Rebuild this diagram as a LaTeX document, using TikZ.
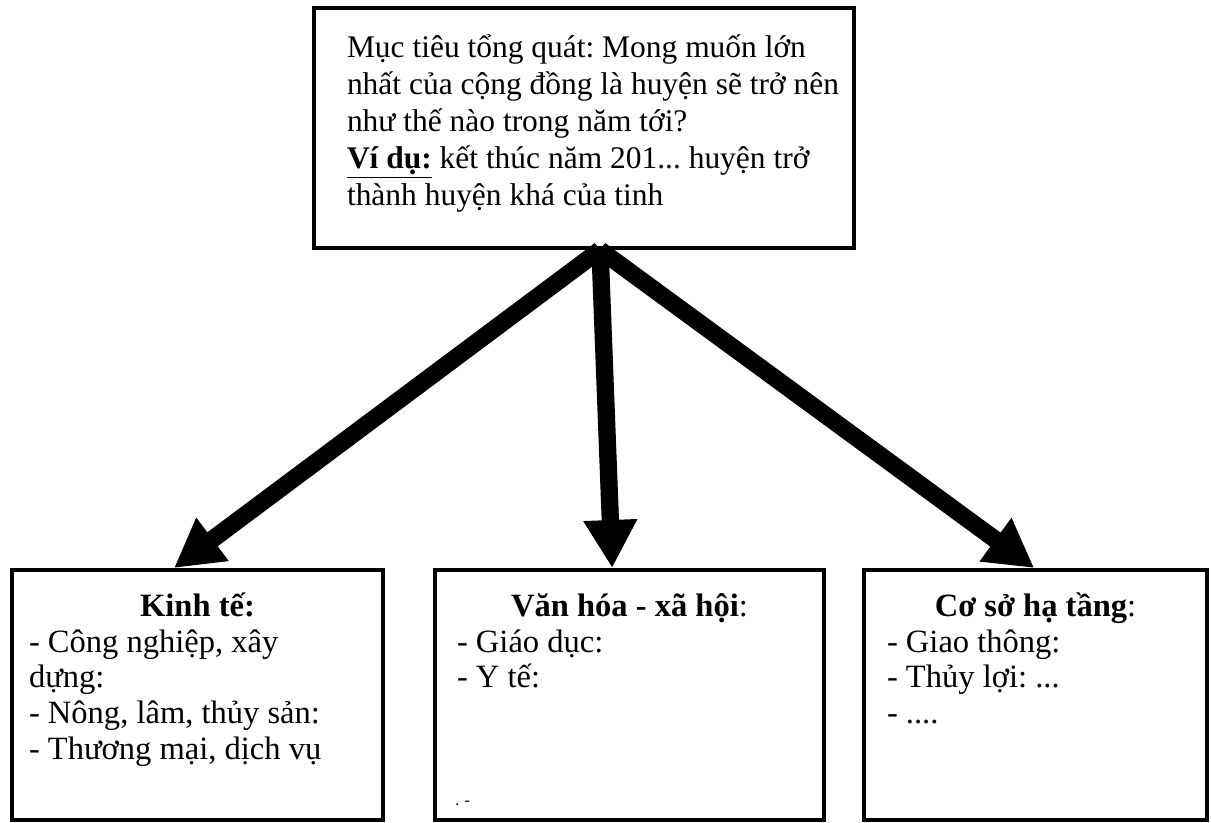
\documentclass[tikz,border=0pt]{standalone}
\usepackage{fontspec}
\setmainfont{Liberation Serif}
\usetikzlibrary{arrows.meta}

\begin{document}
\begin{tikzpicture}[x=1pt, y=1pt, >={Triangle[length=36pt, width=38pt]},
    box/.style={draw, line width=3pt, anchor=north west, align=flush left, inner ysep=4pt,
      text height=30.5pt, text depth=149pt, font=\fontsize{24.4}{27}\selectfont\frenchspacing},
    big/.style={->, line width=13pt}]
    \useasboundingbox (0,0) rectangle (908.25,-617.25);

    \node[box, text width=388pt, inner xsep=8.5pt, text height=33.5pt, text depth=138.5pt,
      font=\fontsize{23.6}{27.75}\selectfont\frenchspacing] (goal) at (234,-4.5)
      {\leftskip=16.25pt Mục tiêu tổng quát: Mong muốn lớn\\
       nhất của cộng đồng là huyện sẽ trở nên\\
       như thế nào trong năm tới?\\
       \underline{\textbf{Ví dụ:}} kết thúc năm 201... huyện trở\\
       thành huyện khá của tinh\par};

    \node[box, text width=252.75pt, inner xsep=12.75pt] (kt) at (7.5,-426)
      {\makebox[\linewidth]{\textbf{Kinh tế:}}\\
       - Công nghiệp, xây\\
       dựng:\\
       - Nông, lâm, thủy sản:\\
       - Thương mại, dịch vụ};
    \node[box, text width=258.75pt, inner xsep=16.5pt] (vh) at (324.75,-426)
      {\makebox[\linewidth]{\textbf{Văn hóa - xã hội}:}\\
       - Giáo dục:\\
       - Y tế:};
    \node[box, text width=222.75pt, inner xsep=17.25pt] (ht) at (646.5,-426)
      {\makebox[\linewidth]{\textbf{Cơ sở hạ tầng}:}\\
       - Giao thông:\\
       - Thủy lợi: ...\\
       - ....};
    \node[anchor=base west, inner sep=0pt, font=\fontsize{12}{12}\selectfont] (rest) at (341.25,-604) {. -};

    % arrows from the goal down to the three fields
    \coordinate (hub) at ([xshift=12pt]goal.south);
    \draw[big] (hub) -- ([xshift=-17.6pt]kt.north);
    \draw[big] (hub) -- ([xshift=-13pt]vh.north);
    \draw[big] (hub) -- ([xshift=-1pt]ht.north);
\end{tikzpicture}
\end{document}
